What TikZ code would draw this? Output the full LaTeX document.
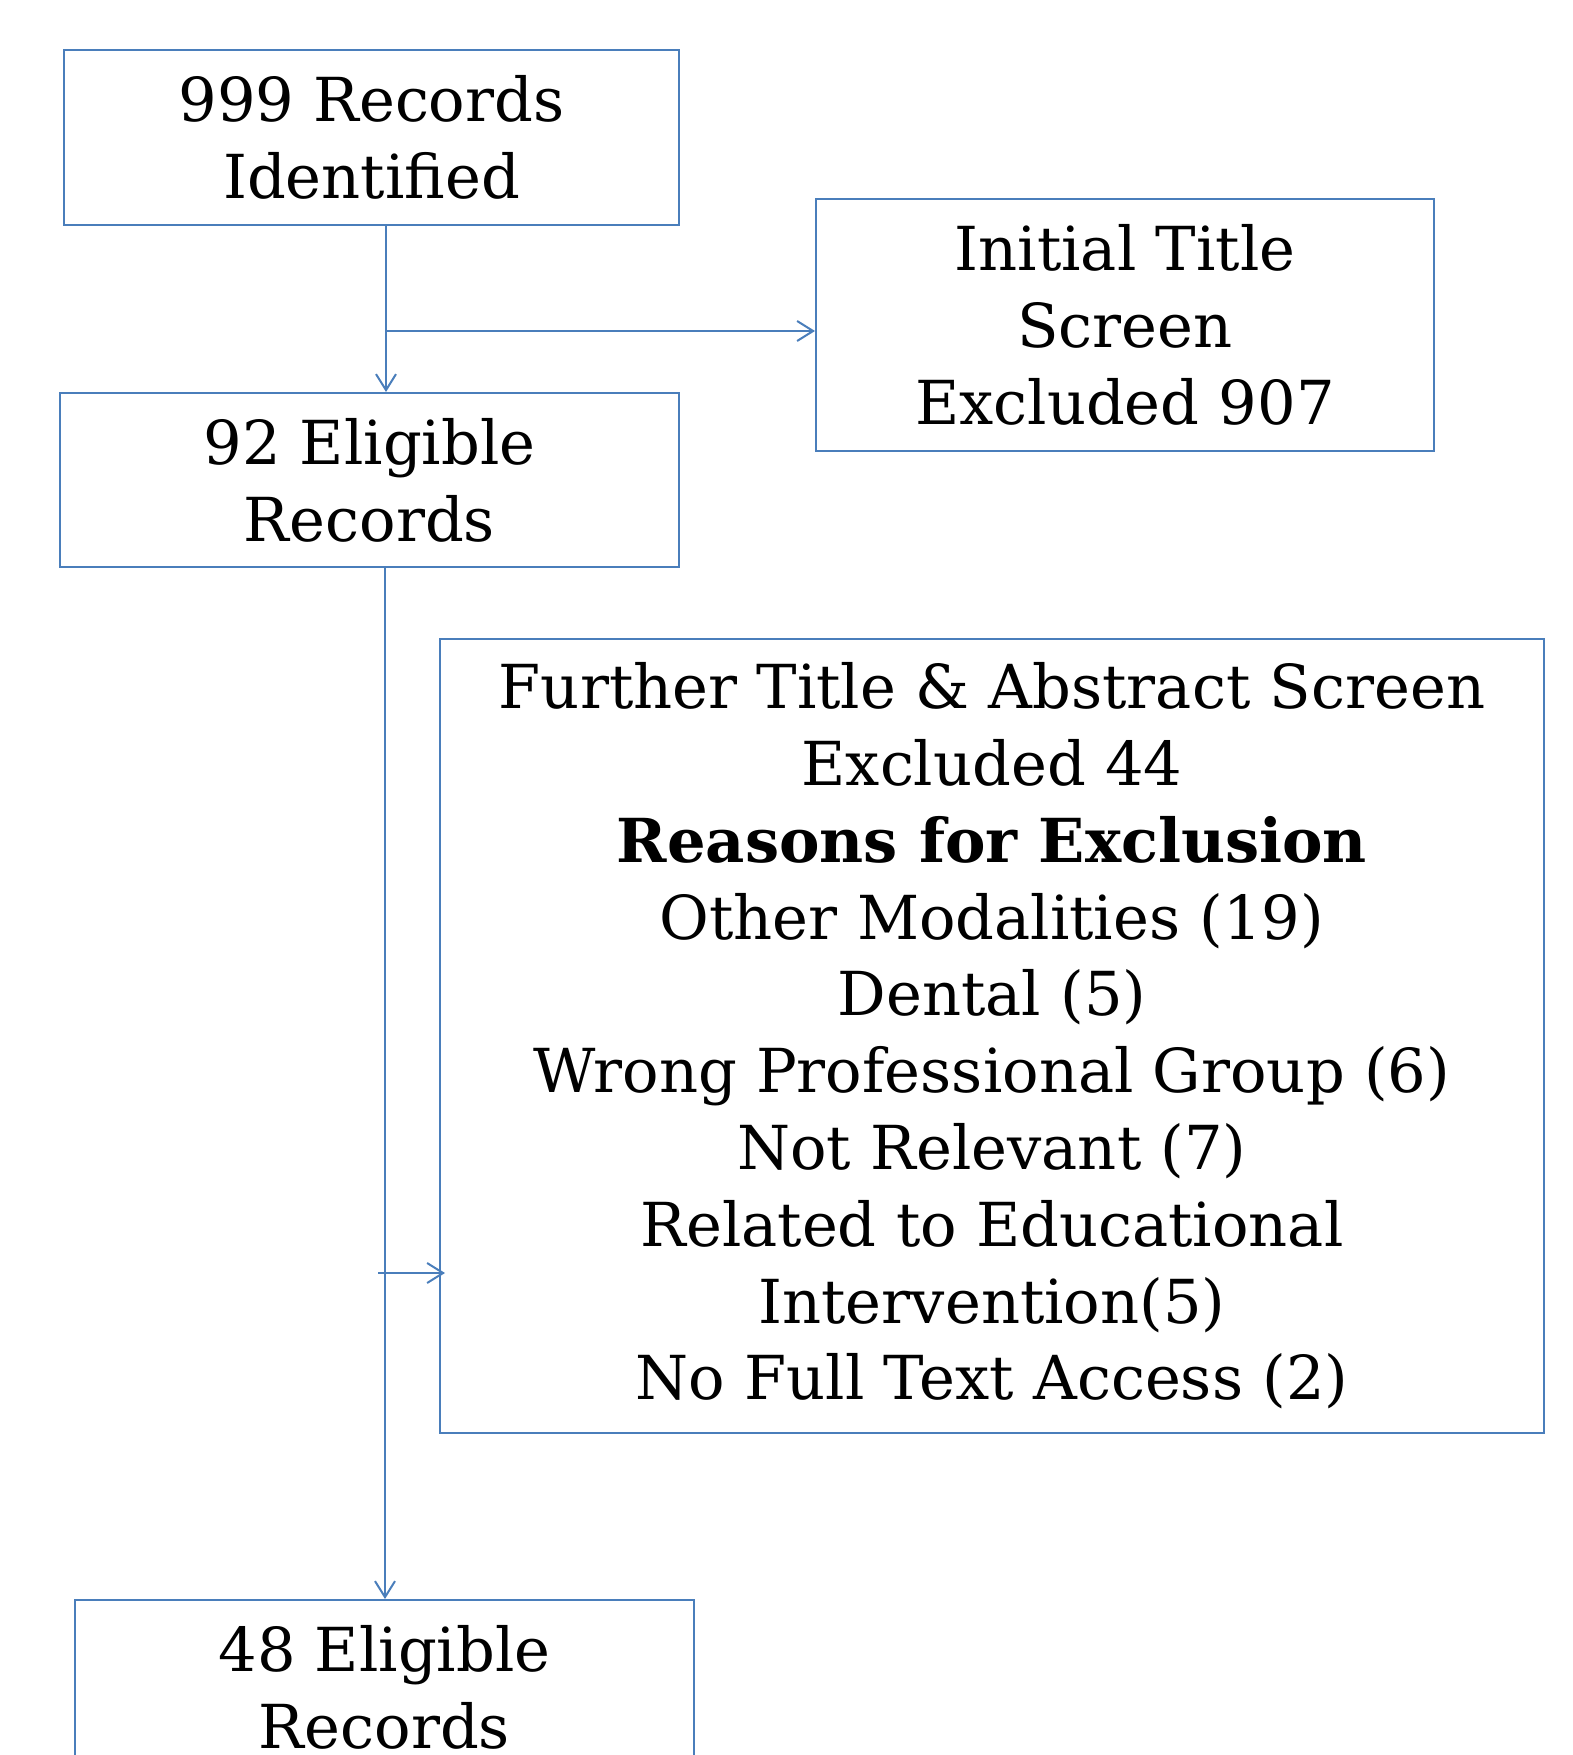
\documentclass[tikz,border=0pt]{standalone}
\usepackage{fontspec}
\setmainfont{DejaVu Serif}
\usetikzlibrary{arrows.meta}
\definecolor{lineblue}{HTML}{4A7EBB}
\begin{document}
\begin{tikzpicture}[x=0.75pt,y=-0.75pt,
  box/.style={draw=lineblue,line width=1.5pt,inner sep=0pt,align=center,
    font=\fontsize{45.5}{57.6}\selectfont},
  arr/.style={draw=lineblue,line width=1.5pt,-{Straight Barb[length=12pt,width=15pt,line width=1.5pt]}}]
\useasboundingbox (0,0) rectangle (1572,1755);
\node[box,minimum width=461.25pt,minimum height=131.25pt] (b1) at (371.5,137.5) {999 Records\\Identified};
\node[box,minimum width=463.5pt,minimum height=189pt] (b2) at (1125,325) {Initial Title\\Screen\\Excluded 907};
\node[box,minimum width=464.25pt,minimum height=130.5pt] (b3) at (369.5,480) {92 Eligible\\Records};
\node[box,minimum width=828pt,minimum height=595.5pt] (b4) at (992,1036) {Further Title \& Abstract Screen\\Excluded 44\\\textbf{Reasons for Exclusion}\\Other Modalities (19)\\Dental (5)\\Wrong Professional Group (6)\\Not Relevant (7)\\Related to Educational\\Intervention(5)\\No Full Text Access (2)};
\node[box,minimum width=464.25pt,minimum height=130.5pt] (b5) at (384.5,1687) {48 Eligible\\Records};
\coordinate (v1) at (386,0);
\coordinate (j1) at (386,331);
\coordinate (v2) at (385,0);
\coordinate (j2) at (378,1273);
\draw[arr] (b1.south -| v1) -- (b3.north -| v1);
\draw[arr] (j1) -- (j1 -| b2.west);
\draw[arr] (b3.south -| v2) -- (b5.north -| v2);
\draw[arr] (j2) -- ([xshift=4.5pt]j2 -| b4.west);
\end{tikzpicture}
\end{document}
